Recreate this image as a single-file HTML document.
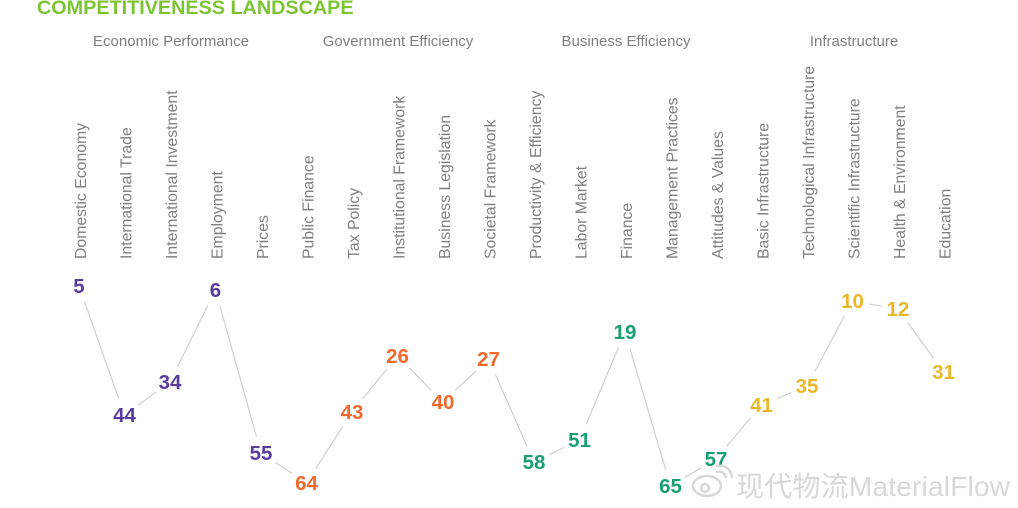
<!DOCTYPE html>
<html><head><meta charset="utf-8"><style>
html,body{margin:0;padding:0;background:#fff;width:1018px;height:508px;overflow:hidden}
svg{display:block;font-family:"Liberation Sans",Arial,sans-serif}
</style></head><body>
<svg id="s" width="1018" height="508" viewBox="0 0 1018 508">
<text x="37" y="14" font-size="19.8" font-weight="bold" fill="#7cc431">COMPETITIVENESS LANDSCAPE</text>
<g font-size="15" fill="#808080" text-anchor="middle">
<text x="171" y="46">Economic Performance</text>
<text x="398" y="46">Government Efficiency</text>
<text x="626" y="46">Business Efficiency</text>
<text x="854" y="46">Infrastructure</text>
</g>
<g id="labels" font-size="15.8" fill="#808080"></g>
<g id="lines" stroke="#cfcfcf" stroke-width="1.2"></g>
<g id="nums" font-size="20.5" font-weight="bold" text-anchor="middle"></g>
<g fill="none" stroke="#d8d8d8" stroke-width="2.5">
<ellipse cx="707" cy="486" rx="14" ry="10"/>
<circle cx="705" cy="488" r="4"/>
<path d="M716 472 q8 -2 10 6 M716 466 q14 -2 16 12"/>
</g>
<text x="736" y="496" font-size="28" fill="#d8d8d8" textLength="274" font-family="'Liberation Sans','Noto Sans CJK SC',sans-serif">现代物流MaterialFlow</text>
</svg>
<script>
var L=["Domestic Economy","International Trade","International Investment","Employment","Prices","Public Finance","Tax Policy","Institutional Framework","Business Legislation","Societal Framework","Productivity & Efficiency","Labor Market","Finance","Management Practices","Attitudes & Values","Basic Infrastructure","Technological Infrastructure","Scientific Infrastructure","Health & Environment","Education"];
var V=[5,44,34,6,55,64,43,26,40,27,58,51,19,65,57,41,35,10,12,31];
var Y=[286,415,382,290,453,483,412,356,402,359,462,440,332,486,459,405,386,301,309,372];
var C=["#5b3a9e","#ee6a2d","#1a9e73","#e9b82a"];
var ns="http://www.w3.org/2000/svg";
function X(i){return 79+i*45.5;}
var lg=document.getElementById("labels"),ln=document.getElementById("lines"),nm=document.getElementById("nums");
for(var i=0;i<20;i++){
 var t=document.createElementNS(ns,"text");var x=X(i)+7;
 t.setAttribute("transform","translate("+x+",259) rotate(-90)");t.textContent=L[i];lg.appendChild(t);
 var n=document.createElementNS(ns,"text");n.setAttribute("x",X(i));n.setAttribute("y",Y[i]+7);
 n.setAttribute("fill",C[Math.floor(i/5)]);n.textContent=V[i];nm.appendChild(n);
 if(i<19){var x1=X(i),y1=Y[i],x2=X(i+1),y2=Y[i+1];var dx=x2-x1,dy=y2-y1,d=Math.sqrt(dx*dx+dy*dy);var g=17;
  var l=document.createElementNS(ns,"line");l.setAttribute("x1",x1+dx*g/d);l.setAttribute("y1",y1+dy*g/d);l.setAttribute("x2",x2-dx*g/d);l.setAttribute("y2",y2-dy*g/d);ln.appendChild(l);}
}
</script>
</body></html>
